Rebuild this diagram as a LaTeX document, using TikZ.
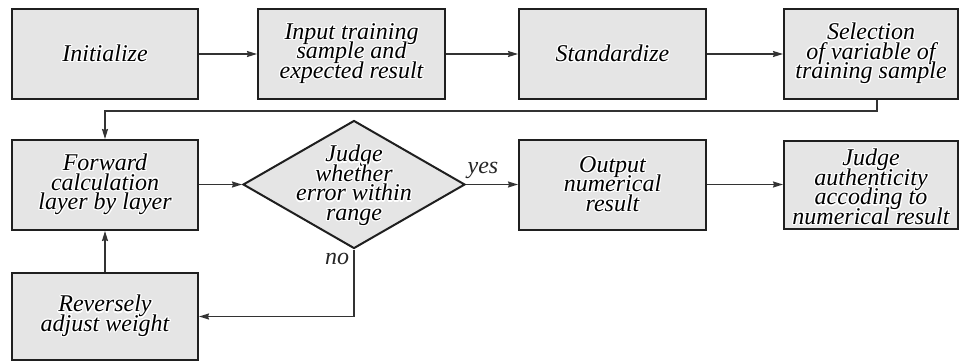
\documentclass[tikz,border=0pt]{standalone}
\usepackage{fontspec}
\setmainfont{Liberation Serif}
\usepackage{contour}
\contourlength{1.2pt}
\usetikzlibrary{shapes.geometric,arrows.meta}
\newcommand{\hl}[1]{\contour{white}{#1}}
\newcommand{\tightlines}{\lineskiplimit=-100pt\relax\lineskip=0pt\relax}
\begin{document}
\begin{tikzpicture}[x=1pt,y=-1pt,
  txt/.style={font={\itshape\fontsize{24}{19.5}\selectfont\tightlines}, align=center, inner sep=0pt},
  box/.style={txt, draw=black!88, line width=2pt, fill=gray!20,
    minimum width=186pt, minimum height=90pt},
  dec/.style={draw=black!88, line width=2pt, fill=gray!20, diamond,
    minimum width=222pt, minimum height=128pt, inner sep=0pt},
  arr/.style={draw=black!80, line width=1.4pt, -{Stealth[length=10pt,width=6pt,inset=1pt]}},
  lab/.style={font={\itshape\fontsize{24}{19.5}\selectfont}, inner sep=0pt, text=black!85}]
\useasboundingbox (0,0) rectangle (960,361);
\node[box] (init) at (105,54) {\hl{Initialize}};
\node[box, minimum width=187pt] (input) at (351.5,54) {\hl{Input training}\\\hl{sample and}\\\hl{expected result}};
\node[box, minimum width=187pt] (std) at (612.5,54) {\hl{Standardize}};
\node[box, minimum width=174pt] (sel) at (871,54) {\hl{Selection}\\\hl{of variable of}\\\hl{training sample}};
\node[box] (fwd) at (105,185) {\hl{Forward}\\\hl{calculation}\\\hl{layer by layer}};
\node[dec] (dia) at (354,184.5) {};
\node[txt] (diatext) at (354,186) {\hl{Judge}\\\hl{whether}\\\hl{error within}\\\hl{range}};
\node[box, minimum width=187pt] (out) at (612.5,184.5) {\hl{Output}\\\hl{numerical}\\\hl{result}};
\node[box, minimum width=174pt, minimum height=88pt] (judge) at (871,184.5) {};
\node[txt] (judgetext) at (871,187.5) {\hl{Judge}\\\hl{authenticity}\\\hl{accoding to}\\\hl{numerical result}};
\node[box, minimum height=87pt] (rev) at (105,316.5) {\hl{Reversely}\\\hl{adjust weight}};
\draw[arr] (init) -- (input);
\draw[arr] (input) -- (std);
\draw[arr] (std) -- (sel);
\draw[arr] ([xshift=6pt]sel.south) -- ++(0,11) -| (fwd.north);
\draw[arr] (fwd.east |- dia.west) -- (dia.west);
\draw[arr] (dia.east) -- (out.west);
\draw[arr] (out) -- (judge);
\draw[arr] (dia.south) |- (rev.east);
\draw[arr] (rev) -- (fwd);
\node[lab] (yes) at (483,170) {yes};
\node[lab] (no) at (337,259) {no};
\end{tikzpicture}
\end{document}
